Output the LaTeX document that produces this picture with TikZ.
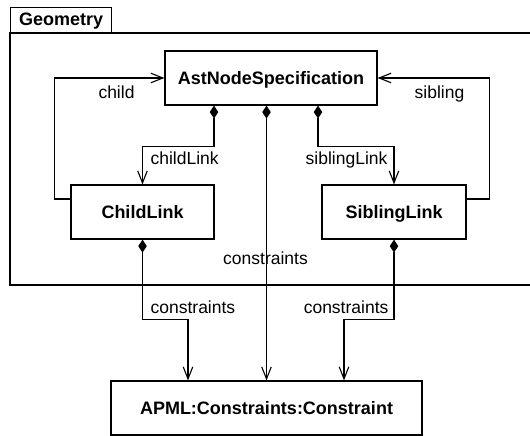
\documentclass[tikz,border=0pt]{standalone}
\usepackage{fontspec}
\setmainfont{Liberation Sans}
\usetikzlibrary{arrows.meta}
\begin{document}
\begin{tikzpicture}[x=1pt,y=-1pt,line width=1.2pt,
  cls/.style={draw,minimum height=54pt,text height=13pt,text depth=0pt,inner sep=0pt,font=\fontsize{18}{20}\selectfont\bfseries},
  lbl/.style={inner sep=0pt,font=\fontsize{17.5}{20}\selectfont},
  assoc/.style={-{Straight Barb[length=12pt,width=9.5pt,line width=1.1pt]}},
  comp/.style={{Diamond[length=13pt,width=8.5pt,fill=black]}-{Straight Barb[length=12pt,width=9.5pt,line width=1.1pt]}}]
\useasboundingbox (0,0) rectangle (530,436);
% package
\node[draw,minimum width=101pt,minimum height=26pt,inner sep=0pt,anchor=north west,font=\fontsize{18}{20}\selectfont\bfseries] (tab) at (10,7) {Geometry};
\draw (10,33) rectangle (532,285);
% classes
\node[cls,minimum width=212pt] (ast) at (271,78) {AstNodeSpecification};
\node[cls,minimum width=143pt] (cl) at (142.5,212) {ChildLink};
\node[cls,minimum width=144pt] (sl) at (394,212) {SiblingLink};
\node[cls,minimum width=311pt] (apml) at (266.5,408) {APML:Constraints:Constraint};
% connectors
\draw[assoc] ([yshift=13pt]cl.west) -- ++(-16,0) |- (ast.west);
\draw[assoc] ([yshift=13pt]sl.east) -- ++(23,0) |- (ast.east);
\draw[comp] ([xshift=-57pt]ast.south) -- ++(0,41) -| (cl.north);
\draw[comp] ([xshift=47pt]ast.south) -- ++(0,41) -| (sl.north);
\draw[comp] (apml.north |- ast.south) -- (apml.north);
\draw[comp] (cl.south) -- ++(0,80) -| ([xshift=-78.5pt]apml.north);
\draw[comp] (sl.south) -- ++(0,80) -| ([xshift=77.5pt]apml.north);
% labels
\node[lbl,anchor=base] (lchild) at (116.5,99) {child};
\node[lbl,anchor=base] (lsib) at (439.5,99) {sibling};
\node[lbl,anchor=base west] (lcl) at (150,164) {childLink};
\node[lbl,anchor=base east] (lsl) at (388,164) {siblingLink};
\node[lbl,anchor=base] (lc) at (265.5,264) {constraints};
\node[lbl,anchor=base west] (lc1) at (150,313) {constraints};
\node[lbl,anchor=base east] (lc2) at (389,313) {constraints};
\end{tikzpicture}
\end{document}
